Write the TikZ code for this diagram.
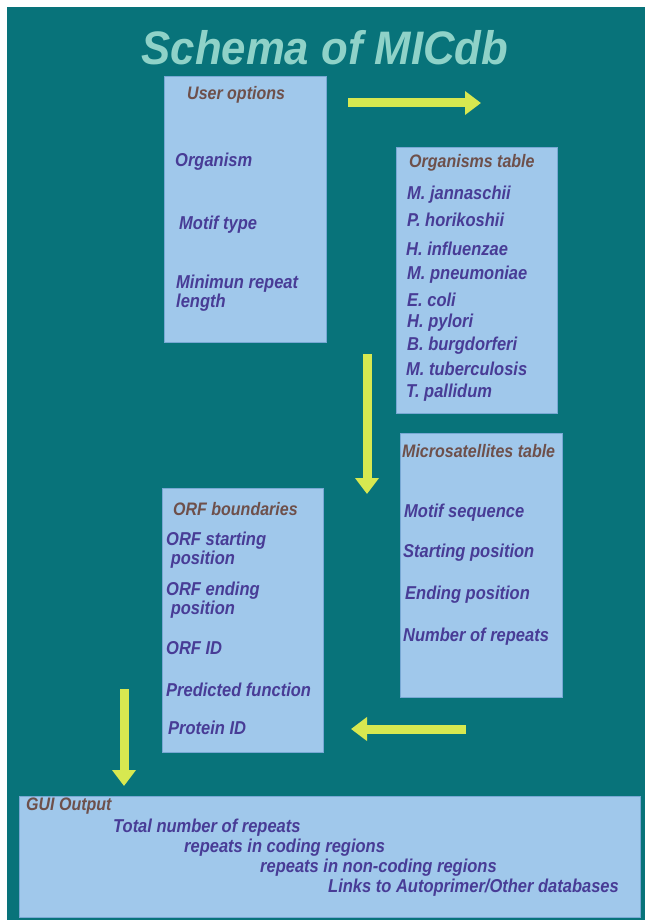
\documentclass[tikz,border=0pt]{standalone}
\usepackage{fontspec}
\setmainfont{Liberation Sans}
\usetikzlibrary{arrows.meta}
\definecolor{bgteal}{HTML}{08737A}
\definecolor{boxfill}{HTML}{A0C8EB}
\definecolor{boxline}{HTML}{78A8D4}
\definecolor{bodytxt}{HTML}{483C96}
\definecolor{headtxt}{HTML}{6E504B}
\definecolor{arrowyel}{HTML}{D7E850}
\definecolor{titlecol}{HTML}{8FD2C8}
\tikzset{
  panel/.style={fill=boxfill, draw=boxline, line width=1pt},
  item/.style={anchor=west, inner sep=0pt, text=bodytxt, font=\fontsize{16.5}{15}\selectfont\bfseries\itshape, align=left, yscale=1.13, transform shape},
  head/.style={anchor=west, inner sep=0pt, text=headtxt, font=\fontsize{16}{16}\selectfont\bfseries\itshape, yscale=1.13, transform shape},
  flow/.style={draw=arrowyel, line width=9pt, -{Triangle[length=16pt,width=23pt]}}
}
\begin{document}
\begin{tikzpicture}[x=1pt,y=-1pt]
\useasboundingbox (0,0) rectangle (645,923);
\fill[white] (0,0) rectangle (645,923);
\fill[bgteal] (7,7) rectangle (645,920);
% title
\node[inner sep=0pt, text=titlecol, font=\fontsize{47}{47}\selectfont\bfseries\itshape, xscale=0.93, transform shape] (title) at (325,48) {Schema of MICdb};
% boxes
\draw[panel] (164,77) rectangle (326,342);
\draw[panel] (396,147) rectangle (557,413);
\draw[panel] (400,433) rectangle (562,697);
\draw[panel] (162,488) rectangle (323,752);
\draw[panel] (19,796) rectangle (640,917);
% user options
\node[head] (uo) at (187,95) {User options};
\node[item] (org) at (175,162) {Organism};
\node[item] (mt) at (179,225) {Motif type};
\node[item] (mrl) at (176,293) {Minimun repeat\\length};
% organisms table
\node[head] (ot) at (409,163) {Organisms table};
\node[item] (o1) at (407,195) {M. jannaschii};
\node[item] (o2) at (407,220) {P. horikoshii};
\node[item] (o3) at (406,249) {H. influenzae};
\node[item] (o4) at (407,275) {M. pneumoniae};
\node[item] (o5) at (407,300) {E. coli};
\node[item] (o6) at (407,323) {H. pylori};
\node[item] (o7) at (407,346) {B. burgdorferi};
\node[item] (o8) at (406,369) {M. tuberculosis};
\node[item] (o9) at (406,393) {T. pallidum};
% microsatellites table
\node[head] (mst) at (402,451) {Microsatellites table};
\node[item] (m1) at (404,513) {Motif sequence};
\node[item] (m2) at (403,553) {Starting position};
\node[item] (m3) at (405,595) {Ending position};
\node[item] (m4) at (403,637) {Number of repeats};
% ORF boundaries
\node[head] (orf) at (173,509) {ORF boundaries};
\node[item] (r1) at (166,550) {ORF starting\\\ position};
\node[item] (r2) at (166,600) {ORF ending\\\ position};
\node[item] (r3) at (166,648) {ORF ID};
\node[item] (r4) at (166,690) {Predicted function};
\node[item] (r5) at (168,728) {Protein ID};
% GUI output
\node[head] (gui) at (26,806) {GUI Output};
\node[item] (g1) at (113,828) {Total number of repeats};
\node[item] (g2) at (184,848) {repeats in coding regions};
\node[item] (g3) at (260,868) {repeats in non-coding regions};
\node[item] (g4) at (328,888) {Links to Autoprimer/Other databases};
% arrows
\coordinate (a1s) at (348,103); \coordinate (a1e) at (481,103);
\coordinate (a2s) at (367,354); \coordinate (a2e) at (367,494);
\coordinate (a3s) at (466,729); \coordinate (a3e) at (351,729);
\coordinate (a4s) at (124,689); \coordinate (a4e) at (124,786);
\draw[flow] (a1s) -- (a1e);
\draw[flow] (a2s) -- (a2e);
\draw[flow] (a3s) -- (a3e);
\draw[flow] (a4s) -- (a4e);
\end{tikzpicture}
\end{document}
